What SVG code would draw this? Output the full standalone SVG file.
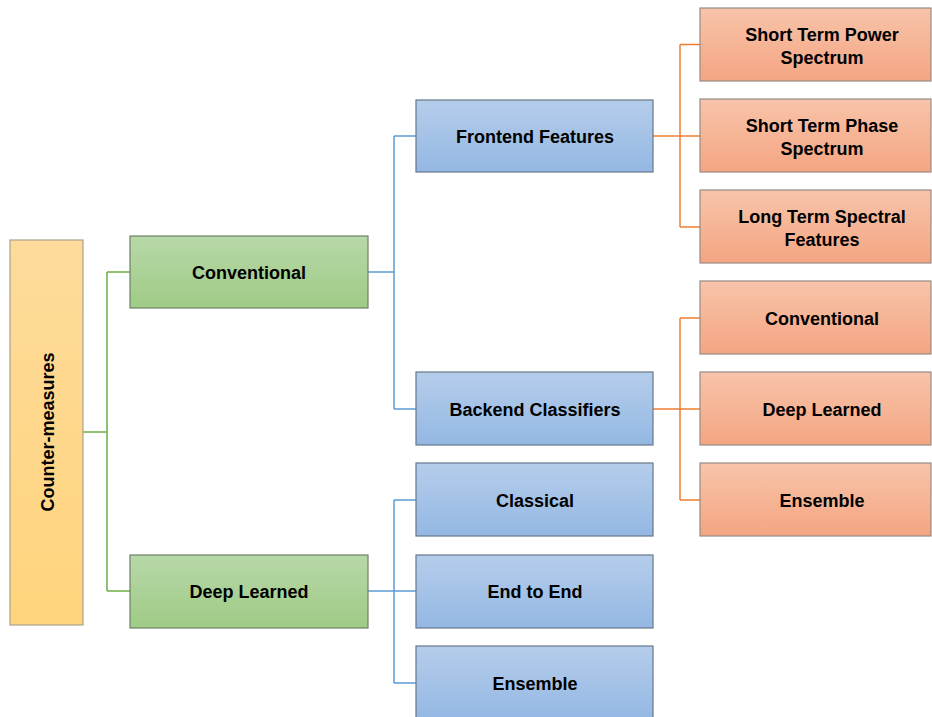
<svg xmlns="http://www.w3.org/2000/svg" width="932" height="717" viewBox="0 0 932 717">
<defs>
<linearGradient id="gY" x1="0" y1="0" x2="0" y2="1"><stop offset="0" stop-color="#FEDB9B"/><stop offset="1" stop-color="#FFD47C"/></linearGradient>
<linearGradient id="gG" x1="0" y1="0" x2="0" y2="1"><stop offset="0" stop-color="#B7D8A8"/><stop offset="1" stop-color="#9FCB86"/></linearGradient>
<linearGradient id="gB" x1="0" y1="0" x2="0" y2="1"><stop offset="0" stop-color="#B5CDEB"/><stop offset="1" stop-color="#94B8E3"/></linearGradient>
<linearGradient id="gO" x1="0" y1="0" x2="0" y2="1"><stop offset="0" stop-color="#F8C4AA"/><stop offset="1" stop-color="#F4A582"/></linearGradient>
<style>
.y{fill:url(#gY);stroke:#A9A28E;stroke-width:1.2}
.g{fill:url(#gG);stroke:#6F7F66;stroke-width:1.2}
.b{fill:url(#gB);stroke:#67778C;stroke-width:1.2}
.o{fill:url(#gO);stroke:#968A84;stroke-width:1.2}
text{font-family:"Liberation Sans",Arial,sans-serif;font-weight:bold;font-size:18px;fill:#000;text-anchor:middle}
.cg{fill:none;stroke:#70AD47;stroke-width:1.5}
.cb{fill:none;stroke:#5B9BD5;stroke-width:1.5}
.co{fill:none;stroke:#ED7D31;stroke-width:1.5}
</style>
</defs>
<g id="connectors">
<path class="cg" d="M83 432H107M107 272V591M107 272H130M107 591H130"/>
<path class="cb" d="M368 272H394M394 136V409M394 136H416M394 409H416"/>
<path class="cb" d="M368 591H394M394 500V683M394 500H416M394 591H416M394 683H416"/>
<path class="co" d="M653 136H680M680 44.5V227M680 44.5H700M680 136H700M680 227H700"/>
<path class="co" d="M653 409H680M680 318V500M680 318H700M680 409H700M680 500H700"/>
</g>
<g id="root"><rect class="y" x="10" y="240" width="73" height="385"/><text transform="translate(53.5 432) rotate(-90)">Counter-measures</text></g>
<g id="conventional"><rect class="g" x="130" y="236" width="238" height="72"/><text x="249" y="278.5">Conventional</text></g>
<g id="deep-learned"><rect class="g" x="130" y="555" width="238" height="73"/><text x="249" y="598">Deep Learned</text></g>
<g id="frontend"><rect class="b" x="416" y="100" width="237" height="72"/><text x="535" y="142.5">Frontend Features</text></g>
<g id="backend"><rect class="b" x="416" y="372" width="237" height="73"/><text x="535" y="415.5">Backend Classifiers</text></g>
<g id="classical"><rect class="b" x="416" y="463" width="237" height="73"/><text x="535" y="506.5">Classical</text></g>
<g id="end-to-end"><rect class="b" x="416" y="555" width="237" height="73"/><text x="535" y="597.5">End to End</text></g>
<g id="dl-ensemble"><rect class="b" x="416" y="646" width="237" height="73"/><text x="535" y="689.5">Ensemble</text></g>
<g id="stps"><rect class="o" x="700" y="8" width="231" height="73"/><text x="822" y="40.5">Short Term Power</text><text x="822" y="63.5">Spectrum</text></g>
<g id="stph"><rect class="o" x="700" y="99" width="231" height="73"/><text x="822" y="131.5">Short Term Phase</text><text x="822" y="154.5">Spectrum</text></g>
<g id="ltsf"><rect class="o" x="700" y="190" width="231" height="73"/><text x="822" y="222.5">Long Term Spectral</text><text x="822" y="245.5">Features</text></g>
<g id="bc-conventional"><rect class="o" x="700" y="281" width="231" height="73"/><text x="822" y="324.5">Conventional</text></g>
<g id="bc-deep"><rect class="o" x="700" y="372" width="231" height="73"/><text x="822" y="415.5">Deep Learned</text></g>
<g id="bc-ensemble"><rect class="o" x="700" y="463" width="231" height="73"/><text x="822" y="506.5">Ensemble</text></g>
</svg>
